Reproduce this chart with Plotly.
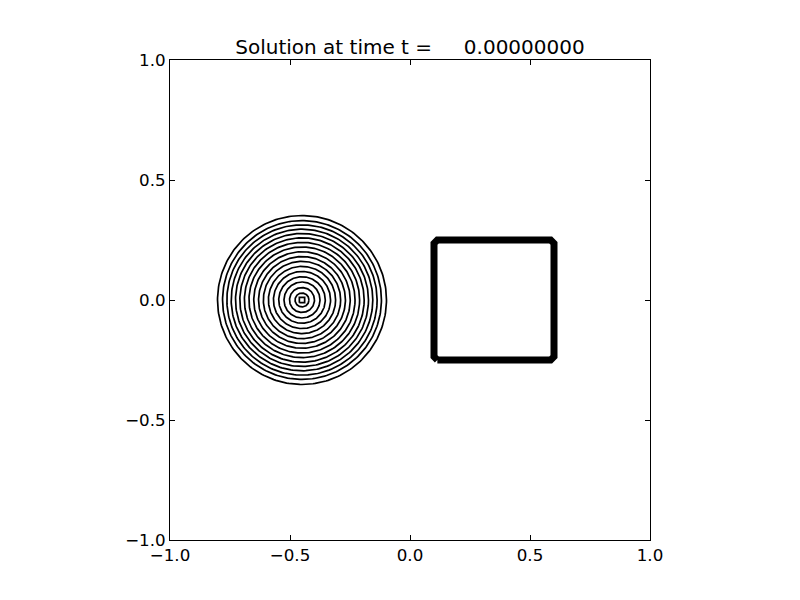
import numpy as np
import plotly.graph_objects as go

# ---- data ----
title_text = "Solution at time t =\u00a0\u00a0\u00a0\u00a0\u00a00.00000000"
cone_center = [-0.45, 0.0]
ring_radii = [0.029, 0.052, 0.075, 0.097, 0.119, 0.140, 0.161, 0.181, 0.201,
              0.221, 0.240, 0.259, 0.277, 0.295, 0.313, 0.331, 0.352]
center_square_half = 0.011
square_x = [0.1, 0.6]
square_y = [-0.25, 0.25]
square_chamfer = 0.014
tick_vals = [-1.0, -0.5, 0.0, 0.5, 1.0]
tick_text = ["\u22121.0", "\u22120.5", "0.0", "0.5", "1.0"]

fig = go.Figure()

theta = np.linspace(0, 2 * np.pi, 241)
cx, cy = cone_center
for r in ring_radii:
    fig.add_trace(go.Scatter(x=cx + r * np.cos(theta), y=cy + r * np.sin(theta),
                             mode="lines", line=dict(color="black", width=1.7),
                             hoverinfo="skip", showlegend=False))

h = center_square_half
fig.add_trace(go.Scatter(x=[cx - h, cx + h, cx + h, cx - h, cx - h],
                         y=[cy - h, cy - h, cy + h, cy + h, cy - h],
                         mode="lines", line=dict(color="black", width=1.7),
                         hoverinfo="skip", showlegend=False))

x0, x1 = square_x
y0, y1 = square_y
c = square_chamfer
sq_x = [x0 + c, x1 - c, x1, x1, x1 - c, x0 + c, x0, x0, x0 + c]
sq_y = [y0, y0, y0 + c, y1 - c, y1, y1, y1 - c, y0 + c, y0]
fig.add_trace(go.Scatter(x=sq_x, y=sq_y, mode="lines",
                         line=dict(color="black", width=7),
                         hoverinfo="skip", showlegend=False))

axis_common = dict(range=[-1, 1], showgrid=False, zeroline=False,
                   showline=True, linecolor="black", linewidth=1,
                   mirror="ticks", ticks="inside", ticklen=5, tickwidth=1,
                   tickcolor="black", tickvals=tick_vals, ticktext=tick_text,
                   tickfont=dict(family="DejaVu Sans", size=16.7, color="black"))

# page body has an 8px margin, so shift the layout up/left by 8px
fig.update_layout(
    width=800, height=600,
    margin=dict(l=162, r=158, t=52, b=68),
    paper_bgcolor="white", plot_bgcolor="white",
    title=dict(text=title_text, x=402 / 800, xanchor="center",
               y=1 - 39 / 600, yanchor="middle", yref="container",
               font=dict(family="DejaVu Sans", size=20, color="black")),
    xaxis=dict(**axis_common, constrain="domain"),
    yaxis=dict(**axis_common),
)

fig.write_html("out.html")
